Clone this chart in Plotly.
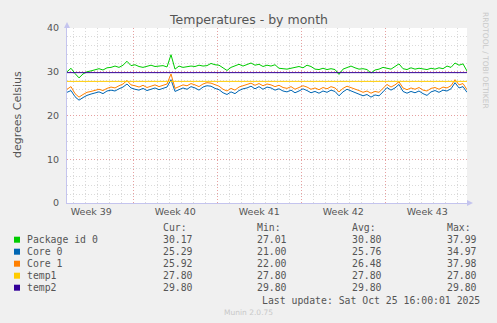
import pandas as pd
import plotly.graph_objects as go

# ---- data (8-hourly samples over the month window) ----
package_id_0 = [
    30.0, 30.8, 29.6, 28.6, 29.5, 30.0, 30.2, 30.5, 30.7, 30.4,
    30.9, 31.0, 31.3, 31.0, 31.5, 32.4, 31.4, 31.6, 31.2, 31.0,
    31.3, 31.5, 31.2, 31.3, 31.4, 31.1, 33.9, 30.6, 31.3, 31.0,
    31.2, 31.3, 31.2, 31.5, 31.3, 31.4, 31.9, 31.6, 31.5, 30.9,
    30.3, 31.0, 31.4, 31.7, 31.3, 31.6, 32.0, 31.5, 31.7, 31.2,
    31.5, 31.3, 31.6, 30.8, 30.7, 30.6, 30.8, 31.0, 31.2, 30.9,
    31.5, 31.2, 30.6, 30.5, 30.8, 30.5, 30.7, 30.5, 29.4, 30.6,
    31.0, 31.3, 30.9, 30.6, 30.7, 30.5, 29.7, 30.4, 30.6, 31.0,
    30.8, 30.6, 31.2, 31.8, 30.7, 30.5, 30.9, 30.6, 30.8, 30.7,
    30.5, 30.8, 30.6, 30.9, 30.7, 31.3, 31.0, 32.0, 31.5, 31.8,
    30.17,
]
core_0 = [
    25.3, 25.7, 24.3, 23.5, 24.1, 24.6, 24.9, 25.1, 25.4, 25.0,
    25.6, 25.8, 25.6, 26.1, 26.5, 27.2, 26.3, 26.0, 25.8, 26.2,
    25.7, 26.0, 26.3, 25.9, 26.2, 26.5, 28.2, 25.5, 25.9, 26.3,
    26.0, 26.6, 26.3, 25.8, 26.5, 26.8, 26.7, 26.2, 25.9, 25.2,
    24.8, 25.4, 25.0, 25.7, 26.1, 26.3, 26.7, 26.1, 26.6, 26.0,
    26.5, 26.3, 25.8, 26.1, 25.6, 25.4, 25.8, 25.2, 25.6, 26.1,
    25.7, 25.2, 25.5, 25.1, 25.6, 25.3, 25.8, 25.5, 24.5, 25.4,
    26.0, 25.6, 25.2, 24.9, 24.5, 24.8, 24.2, 24.7, 24.5, 25.4,
    26.4, 25.8, 26.3, 27.1, 25.5, 25.1, 25.5, 25.2, 25.6, 25.0,
    24.6, 25.4, 25.7, 25.3, 25.8, 25.6, 26.1, 27.5, 26.3, 26.6,
    25.29,
]
core_1 = [
    26.0, 26.6, 25.0, 24.2, 24.8, 25.3, 25.5, 25.8, 26.0, 25.7,
    26.2, 26.5, 26.3, 26.8, 27.2, 28.0, 27.0, 26.8, 26.5, 26.9,
    26.4, 26.7, 27.0, 26.6, 26.9, 27.2, 29.5, 26.2, 26.6, 27.0,
    26.8, 27.3, 27.0, 26.6, 27.2, 27.5, 27.4, 27.0, 26.7, 26.0,
    25.6, 26.2, 25.8, 26.5, 26.8, 27.0, 27.4, 26.9, 27.3, 26.8,
    27.2, 27.0, 26.6, 26.9, 26.4, 26.2, 26.6, 26.0, 26.4, 26.8,
    26.5, 26.0, 26.3, 25.9, 26.4, 26.1, 26.6, 26.3, 25.4, 26.2,
    26.7, 26.4, 26.0, 25.7, 25.3, 25.6, 25.1, 25.5, 25.3, 26.2,
    27.1, 26.5, 27.0, 27.7, 26.3, 25.9, 26.3, 26.0, 26.4, 25.8,
    25.6, 26.2, 26.4, 26.0, 26.5, 26.3, 26.8, 28.2, 27.0, 27.3,
    25.92,
]
temp1_value = 27.80
temp2_value = 29.80

series_names = ["Package id 0", "Core 0", "Core 1", "temp1", "temp2"]
series_colors = ["#00CC00", "#0066B3", "#FF8000", "#FFCC00", "#330099"]
stat_cur = ["30.17", "25.29", "25.92", "27.80", "29.80"]
stat_min = ["27.01", "21.00", "22.00", "27.80", "29.80"]
stat_avg = ["30.80", "25.76", "26.48", "27.80", "29.80"]
stat_max = ["37.99", "34.97", "37.98", "27.80", "29.80"]

y_major = [0, 10, 20, 30, 40]

times = pd.date_range("2025-09-23 11:24", periods=len(package_id_0), freq="8h")
x_start = times[0]
x_end = times[0] + pd.Timedelta(days=33, hours=8)

series_values = [
    package_id_0,
    core_0,
    core_1,
    [temp1_value] * len(times),
    [temp2_value] * len(times),
]

fig = go.Figure()
for name, color, vals in zip(series_names, series_colors, series_values):
    fig.add_trace(go.Scatter(x=times, y=vals, mode="lines", name=name,
                             line=dict(color=color, width=1), showlegend=False))

# daily minor grid, skipping the Monday week boundaries (drawn as major grid)
days = pd.date_range("2025-09-23", "2025-10-27", freq="D")
minor_days = [d for d in days if d.weekday() != 0]
minor_y = [v for v in range(0, 41, 2) if v not in y_major]

# ---- pixel helpers for the page furniture ----
L, R, T, B = 67, 467, 28, 203
W, H = 497, 323


def fx(p):
    return (p - L) / (R - L)


def fy(p):
    return (B - p) / (B - T)


TEXT = "#555555"
MONO = "DejaVu Sans Mono"
SANS = "DejaVu Sans"
DOTS = "1px,2px"
MAJOR = "#E6A0A0"
MINOR = "#DADADA"

annotations = []


def label(x, y, text, size=9.8, family=MONO, color=TEXT, anchor="left", angle=0):
    annotations.append(dict(x=fx(x), y=fy(y), xref="paper", yref="paper", text=text,
                            showarrow=False, xanchor=anchor, yanchor="middle",
                            textangle=angle, borderpad=0,
                            font=dict(family=family, size=size, color=color)))


label(248, 20, "Temperatures - by month", size=12.5, family=SANS, anchor="center")
label(17, 115, "degrees Celsius", size=11, family=SANS, anchor="center", angle=-90)
label(486, 60, "RRDTOOL / TOBI OETIKER", size=7.5, family=SANS, color="#C8C8C8",
      anchor="center", angle=90)

# legend table
col_x = [162, 256, 351, 446]
for cx, head in zip(col_x, ["Cur:", "Min:", "Avg:", "Max:"]):
    label(cx, 227, head)

shapes = []
for i, name in enumerate(series_names):
    ry = 239.7 + 12 * i
    label(26, ry, name)
    for cx, col in zip(col_x, [stat_cur, stat_min, stat_avg, stat_max]):
        label(cx, ry, col[i])
    shapes.append(dict(type="rect", xref="paper", yref="paper",
                       x0=fx(14), x1=fx(20), y0=fy(ry + 3), y1=fy(ry - 3),
                       fillcolor=series_colors[i], line=dict(width=0)))

label(261, 300, "Last update: Sat Oct 25 16:00:01 2025")
label(248, 312, "Munin 2.0.75", size=7.5, family=SANS, color="#C8C8C8", anchor="center")

AXIS = "#C4C4EE"
# axis arrow heads
shapes.append(dict(type="path", xref="paper", yref="paper",
                   path=f"M {fx(64)} {fy(28)} L {fx(70)} {fy(28)} L {fx(67)} {fy(22)} Z",
                   fillcolor=AXIS, line=dict(width=0)))
shapes.append(dict(type="path", xref="paper", yref="paper",
                   path=f"M {fx(467)} {fy(200)} L {fx(467)} {fy(206)} L {fx(473)} {fy(203)} Z",
                   fillcolor=AXIS, line=dict(width=0)))

fig.update_layout(
    width=W, height=H, autosize=False,
    margin=dict(l=L, r=W - R, t=T, b=H - B, pad=0),
    paper_bgcolor="#F0F0F0", plot_bgcolor="#FFFFFF",
    annotations=annotations, shapes=shapes,
    showlegend=False,
    xaxis=dict(
        type="date", range=[x_start, x_end],
        tick0="2025-09-22", dtick=7 * 86400000,
        ticklabelmode="period", tickformat="Week %V",
        tickfont=dict(family=SANS, size=9.5, color=TEXT),
        showgrid=True, gridcolor=MAJOR, griddash=DOTS, gridwidth=1,
        minor=dict(tickmode="array", tickvals=minor_days, showgrid=True,
                   gridcolor=MINOR, griddash=DOTS, gridwidth=1),
        showline=True, linecolor=AXIS, linewidth=1,
        zeroline=False, ticks="", fixedrange=True,
    ),
    yaxis=dict(
        range=[0, 40], tickvals=y_major,
        tickfont=dict(family=SANS, size=9.5, color=TEXT),
        showgrid=True, gridcolor=MAJOR, griddash=DOTS, gridwidth=1,
        minor=dict(tickmode="array", tickvals=minor_y, showgrid=True,
                   gridcolor=MINOR, griddash=DOTS, gridwidth=1),
        showline=True, linecolor=AXIS, linewidth=1,
        zeroline=False, ticks="", ticklabelstandoff=5, fixedrange=True,
    ),
)

fig.write_html("out.html")
